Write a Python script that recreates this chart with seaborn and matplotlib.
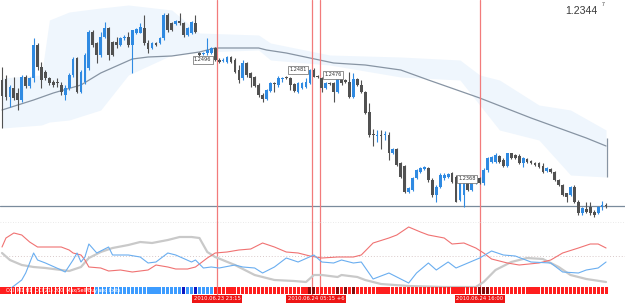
import numpy as np
import matplotlib
matplotlib.use("Agg")
import matplotlib.pyplot as plt
from matplotlib.transforms import blended_transform_factory
import seaborn as sns

# --- candles ---
opens = [
    1.2470, 1.2471, 1.2453, 1.2462, 1.2457, 1.2450, 1.2473, 1.2464, 1.2472, 1.2505,
    1.2483, 1.2478, 1.2472, 1.2468, 1.2468, 1.2465, 1.2455, 1.2462, 1.2475, 1.2492,
    1.2458, 1.2468, 1.2482, 1.2518, 1.2507, 1.2495, 1.2513, 1.2522, 1.2508, 1.2508,
    1.2505, 1.2512, 1.2513, 1.2505, 1.2517, 1.2517, 1.2522, 1.2507, 1.2502, 1.2507,
    1.2507, 1.2512, 1.2535, 1.2527, 1.2526, 1.2529, 1.2527, 1.2515, 1.2517, 1.2527,
    1.2497, 1.2496, 1.2497, 1.2497, 1.2502, 1.2490, 1.2489, 1.2488, 1.2493, 1.2490,
    1.2480, 1.2472, 1.2487, 1.2477, 1.2473, 1.2465, 1.2455, 1.2451, 1.2459, 1.2467,
    1.2465, 1.2471, 1.2473, 1.2472, 1.2466, 1.2458, 1.2462, 1.2463, 1.2467, 1.2480,
    1.2474, 1.2472, 1.2462, 1.2467, 1.2467, 1.2458, 1.2476, 1.2470, 1.2468, 1.2453,
    1.2471, 1.2465, 1.2458, 1.2438, 1.2416, 1.2414, 1.2415, 1.2415, 1.2415, 1.2397,
    1.2401, 1.2387, 1.2384, 1.2358, 1.2360, 1.2372, 1.2378, 1.2381, 1.2382, 1.2370,
    1.2355, 1.2363, 1.2372, 1.2373, 1.2377, 1.2373, 1.2350, 1.2355, 1.2368, 1.2360,
    1.2367, 1.2372, 1.2367, 1.2380, 1.2388, 1.2388, 1.2394, 1.2390, 1.2384, 1.2397,
    1.2395, 1.2394, 1.2387, 1.2391, 1.2389, 1.2387, 1.2387, 1.2384, 1.2379, 1.2381,
    1.2378, 1.2370, 1.2365, 1.2357, 1.2355, 1.2363, 1.2348, 1.2337, 1.2341, 1.2343,
    1.2338, 1.2337, 1.2343, 1.2345,
]
highs = [
    1.2483, 1.2475, 1.2465, 1.2473, 1.2462, 1.2475, 1.2475, 1.2473, 1.2512, 1.2507,
    1.2488, 1.2480, 1.2473, 1.2470, 1.2472, 1.2468, 1.2465, 1.2477, 1.2493, 1.2493,
    1.2480, 1.2497, 1.2520, 1.2520, 1.2508, 1.2518, 1.2528, 1.2523, 1.2509, 1.2513,
    1.2513, 1.2515, 1.2518, 1.2520, 1.2522, 1.2527, 1.2535, 1.2510, 1.2508, 1.2508,
    1.2513, 1.2537, 1.2537, 1.2528, 1.2530, 1.2537, 1.2528, 1.2523, 1.2529, 1.2535,
    1.2498, 1.2498, 1.2512, 1.2503, 1.2503, 1.2492, 1.2492, 1.2494, 1.2494, 1.2492,
    1.2485, 1.2490, 1.2488, 1.2478, 1.2474, 1.2467, 1.2457, 1.2461, 1.2468, 1.2468,
    1.2474, 1.2473, 1.2474, 1.2473, 1.2467, 1.2468, 1.2468, 1.2472, 1.2481, 1.2482,
    1.2475, 1.2473, 1.2468, 1.2468, 1.2468, 1.2476, 1.2478, 1.2471, 1.2478, 1.2477,
    1.2472, 1.2470, 1.2459, 1.2447, 1.2421, 1.2420, 1.2420, 1.2419, 1.2418, 1.2402,
    1.2402, 1.2388, 1.2385, 1.2363, 1.2373, 1.2381, 1.2383, 1.2384, 1.2383, 1.2372,
    1.2365, 1.2377, 1.2377, 1.2377, 1.2378, 1.2375, 1.2368, 1.2368, 1.2369, 1.2368,
    1.2373, 1.2373, 1.2382, 1.2393, 1.2394, 1.2397, 1.2395, 1.2392, 1.2397, 1.2397,
    1.2396, 1.2396, 1.2393, 1.2392, 1.2390, 1.2388, 1.2388, 1.2387, 1.2383, 1.2382,
    1.2379, 1.2371, 1.2366, 1.2357, 1.2364, 1.2365, 1.2350, 1.2343, 1.2348, 1.2348,
    1.2340, 1.2344, 1.2349, 1.2347,
]
lows = [
    1.2422, 1.2450, 1.2443, 1.2450, 1.2440, 1.2448, 1.2462, 1.2462, 1.2468, 1.2480,
    1.2462, 1.2470, 1.2465, 1.2463, 1.2463, 1.2455, 1.2450, 1.2460, 1.2473, 1.2457,
    1.2457, 1.2466, 1.2480, 1.2503, 1.2487, 1.2493, 1.2512, 1.2490, 1.2494, 1.2502,
    1.2504, 1.2510, 1.2503, 1.2477, 1.2516, 1.2517, 1.2505, 1.2497, 1.2501, 1.2504,
    1.2506, 1.2510, 1.2518, 1.2519, 1.2525, 1.2525, 1.2513, 1.2514, 1.2516, 1.2517,
    1.2494, 1.2495, 1.2495, 1.2496, 1.2489, 1.2487, 1.2488, 1.2487, 1.2487, 1.2477,
    1.2467, 1.2470, 1.2473, 1.2463, 1.2463, 1.2453, 1.2448, 1.2450, 1.2458, 1.2458,
    1.2463, 1.2468, 1.2471, 1.2460, 1.2458, 1.2457, 1.2461, 1.2462, 1.2466, 1.2473,
    1.2472, 1.2458, 1.2461, 1.2465, 1.2448, 1.2457, 1.2465, 1.2467, 1.2452, 1.2452,
    1.2464, 1.2457, 1.2436, 1.2413, 1.2404, 1.2408, 1.2401, 1.2410, 1.2390, 1.2396,
    1.2384, 1.2372, 1.2357, 1.2357, 1.2359, 1.2371, 1.2377, 1.2380, 1.2368, 1.2353,
    1.2348, 1.2362, 1.2370, 1.2372, 1.2367, 1.2348, 1.2349, 1.2343, 1.2359, 1.2359,
    1.2366, 1.2366, 1.2365, 1.2378, 1.2387, 1.2387, 1.2387, 1.2383, 1.2383, 1.2391,
    1.2391, 1.2386, 1.2383, 1.2387, 1.2386, 1.2384, 1.2382, 1.2377, 1.2378, 1.2377,
    1.2369, 1.2364, 1.2354, 1.2348, 1.2354, 1.2347, 1.2335, 1.2335, 1.2337, 1.2335,
    1.2333, 1.2336, 1.2340, 1.2342,
]
closes = [
    1.2454, 1.2453, 1.2463, 1.2452, 1.2450, 1.2473, 1.2464, 1.2472, 1.2505, 1.2483,
    1.2470, 1.2472, 1.2467, 1.2465, 1.2467, 1.2458, 1.2462, 1.2475, 1.2491, 1.2458,
    1.2478, 1.2495, 1.2518, 1.2505, 1.2495, 1.2513, 1.2522, 1.2495, 1.2495, 1.2505,
    1.2512, 1.2513, 1.2505, 1.2520, 1.2521, 1.2523, 1.2507, 1.2501, 1.2507, 1.2505,
    1.2512, 1.2535, 1.2520, 1.2520, 1.2529, 1.2527, 1.2515, 1.2522, 1.2528, 1.2518,
    1.2495, 1.2497, 1.2500, 1.2502, 1.2490, 1.2488, 1.2490, 1.2493, 1.2488, 1.2478,
    1.2470, 1.2487, 1.2475, 1.2472, 1.2464, 1.2455, 1.2451, 1.2460, 1.2467, 1.2466,
    1.2472, 1.2472, 1.2472, 1.2465, 1.2459, 1.2467, 1.2467, 1.2468, 1.2480, 1.2473,
    1.2473, 1.2462, 1.2467, 1.2466, 1.2458, 1.2475, 1.2467, 1.2468, 1.2453, 1.2471,
    1.2465, 1.2458, 1.2437, 1.2415, 1.2415, 1.2415, 1.2414, 1.2416, 1.2397, 1.2401,
    1.2385, 1.2373, 1.2358, 1.2362, 1.2372, 1.2380, 1.2382, 1.2383, 1.2370, 1.2355,
    1.2363, 1.2375, 1.2375, 1.2376, 1.2368, 1.2348, 1.2367, 1.2367, 1.2360, 1.2367,
    1.2372, 1.2367, 1.2380, 1.2392, 1.2393, 1.2395, 1.2388, 1.2384, 1.2397, 1.2392,
    1.2392, 1.2387, 1.2392, 1.2388, 1.2387, 1.2385, 1.2383, 1.2378, 1.2382, 1.2378,
    1.2370, 1.2365, 1.2355, 1.2353, 1.2363, 1.2348, 1.2337, 1.2342, 1.2338, 1.2337,
    1.2335, 1.2343, 1.2345, 1.2344,
]

# moving average (sampled along the curve)
ma_bars = [0, 8, 13, 20, 25, 33, 37, 43, 50, 54, 65, 67, 72, 78, 84, 92, 101, 108, 121, 134, 148, 153]
ma_vals = [1.2440, 1.2450, 1.2457, 1.2465, 1.2477, 1.2491, 1.2493, 1.2494, 1.2498, 1.2502, 1.2502,
           1.2500, 1.2497, 1.2492, 1.2487, 1.2485, 1.2480, 1.2470, 1.2452, 1.2432, 1.2412, 1.2404]
ma_tail = [1.2373, 1.2412]

# light blue band
band_bars = [0, 10, 12, 17, 25, 32, 43, 50, 65, 68, 83, 101, 116, 121, 126, 136, 144, 153]
band_hi = [1.2472, 1.2475, 1.2530, 1.2538, 1.2542, 1.2545, 1.2540, 1.2517, 1.2515, 1.2507,
           1.2495, 1.2493, 1.2490, 1.2475, 1.2470, 1.2445, 1.2440, 1.2420]
band_lo = [1.2422, 1.2425, 1.2428, 1.2430, 1.2440, 1.2475, 1.2495, 1.2498, 1.2500, 1.2490,
           1.2485, 1.2473, 1.2470, 1.2445, 1.2420, 1.2410, 1.2375, 1.2373]

level_price = 1.2344
event_bars = [54.5, 78.5, 80.5, 121]
event_labels = ["2010.06.23 23:15", "2010.06.24 05:15 +6", "2010.06.24 16:00"]
event_label_bars = [54.5, 79.5, 121]

tag_bars = [48.6, 72.8, 81.6, 115.6]
tag_prices = [1.2490, 1.2480, 1.2475, 1.2371]
tag_texts = ["1.2496", "1.2481", "1.2476", "1.2368"]

# lower pane lines
red_bars = [0, 1, 3, 5, 7, 9, 12, 15, 17, 18, 20, 21, 22, 25, 27, 30, 33, 37, 39, 42, 44, 47, 49,
            52, 54, 57, 60, 63, 66, 69, 72, 75, 78, 81, 85, 89, 91, 94, 98, 100, 103, 106, 108,
            112, 114, 117, 120, 122, 124, 128, 131, 136, 139, 142, 146, 149, 151, 153]
red_vals = [43, 52, 57, 55, 48, 43, 43, 43, 40, 37, 35, 30, 23, 22, 19, 20, 18, 20, 25, 23, 21, 21, 23,
            32, 37, 38, 40, 41, 47, 43, 38, 37, 34, 32, 33, 33, 35, 47, 52, 55, 63, 58, 55,
            52, 46, 47, 42, 37, 31, 27, 25, 27, 30, 37, 42, 46, 46, 42]
blue_bars = [1, 5, 6, 7, 8, 9, 11, 15, 16, 18, 19, 20, 21, 22, 24, 27, 28, 32, 35, 37, 39, 42, 44,
             48, 49, 51, 53, 55, 59, 61, 64, 66, 69, 72, 75, 79, 81, 84, 86, 89, 91, 94, 98, 100,
             103, 105, 108, 110, 113, 115, 118, 121, 124, 127, 130, 134, 139, 142, 146, 148, 151, 153]
blue_vals = [-2, 10, 17, 27, 37, 30, 27, 20, 18, 30, 37, 28, 33, 46, 37, 43, 35, 35, 33, 27, 28, 37, 35,
             28, 30, 22, 23, 22, 25, 23, 22, 17, 23, 32, 28, 35, 28, 27, 30, 27, 28, 11, 17, 13,
             7, 17, 27, 20, 28, 22, 27, 32, 39, 35, 34, 28, 27, 18, 17, 20, 22, 28]
gray_bars = [0, 2, 5, 8, 11, 15, 17, 20, 22, 25, 28, 32, 35, 38, 42, 45, 48, 50, 52, 54, 59, 64, 69,
             74, 77, 79, 81, 85, 86, 90, 92, 96, 103, 112, 120, 122, 125, 129, 133, 137, 141, 144,
             148, 153]
gray_vals = [37, 30, 25, 23, 22, 20, 19, 23, 32, 38, 42, 45, 48, 47, 50, 53, 53, 52, 38, 33, 25, 15, 10,
             9, 8, 15, 15, 13, 15, 13, 10, 6, 4, 3, 3, 8, 20, 28, 32, 31, 23, 15,
             11, 8]
ind_level = 34

# signal strip: (state, number of bars)
strip_runs = [("r", 24), ("b", 22), ("B", 1), ("b", 2), ("B", 1), ("b", 4), ("r", 24), ("R", 2),
              ("r", 5), ("R", 1), ("r", 1), ("R", 1), ("r", 1), ("R", 1), ("r", 31), ("R", 3), ("r", 30)]
strip_text = "CCI  M1 H1  CCI(21) 200  Max/Sell/Buy and Exits"

BLUE = "#2f8ae2"
DARK = "#515151"
RED_LINE = "#f27b7b"
strip_colors = {"r": "#ff1e1e", "b": "#3d9cff", "B": "#0b18c4", "R": "#870b0b"}

sns.set_theme(style="white")
plt.rcParams["font.family"] = ["DejaVu Sans"]

o, h, l, c = (np.array(v) for v in (opens, highs, lows, closes))
bars = np.arange(len(o))
xlim = (-0.51, 157.8)

fig = plt.figure(figsize=(6.25, 3.03), dpi=100)
ax = fig.add_axes([0, 83 / 303, 1, 220 / 303])
ax_ind = fig.add_axes([0, 8 / 303, 1, 75 / 303])
ax_bar = fig.add_axes([0, 9 / 303, 1, 7 / 303])

# main price pane
ax.fill_between(band_bars, band_lo, band_hi, color="#eff6fd", lw=0, zorder=0)
sns.lineplot(x=ma_bars, y=ma_vals, ax=ax, color="#8794a3", lw=0.9, zorder=1)
ax.vlines(153.3, ma_tail[0], ma_tail[1], color="#8794a3", lw=0.9, zorder=1)
ax.axhline(level_price, color="#7a8b9c", lw=0.9, zorder=2)
for b in event_bars:
    ax.axvline(b, color=RED_LINE, lw=0.9, zorder=2)

up = c >= o
cols = np.where(up, BLUE, DARK)
ax.vlines(bars, l, h, colors=cols, lw=0.8, zorder=3)
ax.bar(bars, np.maximum(np.abs(c - o), 0.00012), bottom=np.minimum(o, c), width=0.7,
       color=cols, lw=0, zorder=4)

for b, p, t in zip(tag_bars, tag_prices, tag_texts):
    ax.text(b, p, t, fontsize=3.6, color="#333333", va="center", ha="left", zorder=5,
            bbox=dict(boxstyle="square,pad=0.25", fc="white", ec="#666666", lw=0.5))

ax.set_xlim(*xlim)
ax.set_ylim(1.2330, 1.2550)
ax.axis("off")

fig.text(565 / 625, 1 - 11 / 303, "1.2344", fontsize=7.6, color="#3a3a3a", va="center", ha="left",
         family="Liberation Sans")
fig.text(602 / 625, 1 - 5 / 303, "7", fontsize=3.8, color="#3a3a3a", va="center", ha="left",
         family="Liberation Sans")

# lower indicator pane
ax_ind.axhline(ind_level, color="#d9c9c9", lw=0.7, ls=(0, (1, 2)))
ax_ind.axhline(68, color="#e3e3e3", lw=0.6, ls=(0, (1, 2)))
for b in event_bars:
    ax_ind.axvline(b, color=RED_LINE, lw=0.9, zorder=1)
sns.lineplot(x=gray_bars, y=gray_vals, ax=ax_ind, color="#c9c9c9", lw=1.6, zorder=2)
sns.lineplot(x=red_bars, y=red_vals, ax=ax_ind, color="#f07272", lw=0.8, zorder=3)
sns.lineplot(x=blue_bars, y=blue_vals, ax=ax_ind, color="#6aaef0", lw=0.8, zorder=3)
ax_ind.set_xlim(*xlim)
ax_ind.set_ylim(-5, 70)
ax_ind.axis("off")

# signal strip
states = [s for s, n in strip_runs for _ in range(n)]
ax_bar.bar(bars, 1, width=0.78, color=[strip_colors[s] for s in states], lw=0)
ax_bar.text(1.0, 0.5, strip_text, fontsize=3.4, color="white", va="center", ha="left")
ax_bar.set_xlim(*xlim)
ax_bar.set_ylim(0, 1)
ax_bar.axis("off")

tr = blended_transform_factory(ax_bar.transData, fig.transFigure)
for b, t in zip(event_label_bars, event_labels):
    ax_bar.text(b, 4 / 303, t, transform=tr, fontsize=3.8, color="white", ha="center", va="center",
                clip_on=False,
                bbox=dict(boxstyle="square,pad=0.25", fc="#ee1515", ec="none"))

fig.savefig("out.png", dpi=100)
